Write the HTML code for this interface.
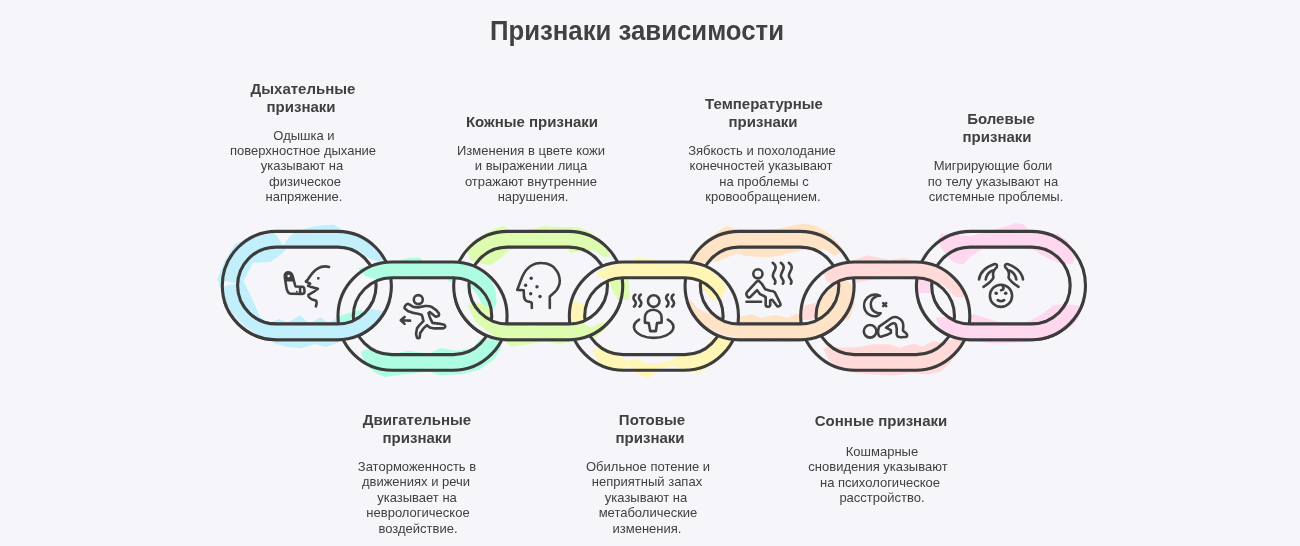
<!DOCTYPE html>
<html><head><meta charset="utf-8"><style>
html,body{margin:0;padding:0;background:#f6f6fa;}
body{width:1300px;height:546px;background:#f6f6fa;position:relative;overflow:hidden;font-family:"Liberation Sans",sans-serif;}
svg{position:absolute;left:0;top:0;}
.ln{fill:none;stroke:#3c3c3c;stroke-width:3.1;}
.ic{fill:none;stroke:#404040;stroke-width:2.6;stroke-linecap:round;stroke-linejoin:round;}
.t{position:absolute;will-change:transform;width:220px;text-align:center;font-weight:bold;font-size:15px;line-height:17.3px;color:#404040;white-space:nowrap;}
.d{position:absolute;will-change:transform;width:220px;text-align:center;font-size:13px;line-height:14.9px;color:#404040;white-space:nowrap;}
.h{position:absolute;will-change:transform;transform:scaleY(1.045);transform-origin:50% 24px;left:437px;width:400px;top:15.5px;text-align:center;font-weight:bold;font-size:25.75px;line-height:30px;color:#414141;white-space:nowrap;}
</style></head><body>
<svg width="1300" height="546" viewBox="0 0 1300 546">
<defs><clipPath id="lowclip"><rect x="0" y="302" width="1300" height="244"/></clipPath><clipPath id="band0"><path d="M276.45,231.40 H337.25 A54.15,54.15 0 0 1 337.25,339.70 H276.45 A54.15,54.15 0 0 1 276.45,231.40 Z M276.05,247.10 H337.65 A38.45,38.45 0 0 1 337.65,324.00 H276.05 A38.45,38.45 0 0 1 276.05,247.10 Z" clip-rule="evenodd"/></clipPath><clipPath id="band1"><path d="M392.13,262.00 H452.93 A54.15,54.15 0 0 1 452.93,370.30 H392.13 A54.15,54.15 0 0 1 392.13,262.00 Z M391.73,277.70 H453.33 A38.45,38.45 0 0 1 453.33,354.60 H391.73 A38.45,38.45 0 0 1 391.73,277.70 Z" clip-rule="evenodd"/></clipPath><clipPath id="band2"><path d="M507.81,231.40 H568.61 A54.15,54.15 0 0 1 568.61,339.70 H507.81 A54.15,54.15 0 0 1 507.81,231.40 Z M507.41,247.10 H569.01 A38.45,38.45 0 0 1 569.01,324.00 H507.41 A38.45,38.45 0 0 1 507.41,247.10 Z" clip-rule="evenodd"/></clipPath><clipPath id="band3"><path d="M623.49,262.00 H684.29 A54.15,54.15 0 0 1 684.29,370.30 H623.49 A54.15,54.15 0 0 1 623.49,262.00 Z M623.09,277.70 H684.69 A38.45,38.45 0 0 1 684.69,354.60 H623.09 A38.45,38.45 0 0 1 623.09,277.70 Z" clip-rule="evenodd"/></clipPath><clipPath id="band4"><path d="M739.17,231.40 H799.97 A54.15,54.15 0 0 1 799.97,339.70 H739.17 A54.15,54.15 0 0 1 739.17,231.40 Z M738.77,247.10 H800.37 A38.45,38.45 0 0 1 800.37,324.00 H738.77 A38.45,38.45 0 0 1 738.77,247.10 Z" clip-rule="evenodd"/></clipPath><clipPath id="band5"><path d="M854.85,262.00 H915.65 A54.15,54.15 0 0 1 915.65,370.30 H854.85 A54.15,54.15 0 0 1 854.85,262.00 Z M854.45,277.70 H916.05 A38.45,38.45 0 0 1 916.05,354.60 H854.45 A38.45,38.45 0 0 1 854.45,277.70 Z" clip-rule="evenodd"/></clipPath><clipPath id="band6"><path d="M970.53,231.40 H1031.33 A54.15,54.15 0 0 1 1031.33,339.70 H970.53 A54.15,54.15 0 0 1 970.53,231.40 Z M970.13,247.10 H1031.73 A38.45,38.45 0 0 1 1031.73,324.00 H970.13 A38.45,38.45 0 0 1 970.13,247.10 Z" clip-rule="evenodd"/></clipPath></defs>
<g opacity="1"><path d="M383.6,263.1 L380.8,256.2 L372.6,242.5 L358.8,234.2 L342.4,230.1 L334.1,224.6 L314.9,226.0 L296.0,231.5 L290.0,236.0 L283.0,245.5 L277.0,236.0 L273.0,233.0 L257.2,237.0 L235.2,243.8 L224.2,261.7 L217.4,279.6 L224.2,297.4 L232.5,313.9 L246.2,327.6 L259.9,335.9 L276.4,344.1 L287.4,346.9 L301.2,348.2 L314.9,344.1 L325.9,346.9 L353.4,337.3 L369.8,330.4 L380.8,319.4 L383.6,311.2 L369.8,308.4 L358.8,318.0 L336.9,318.0 L328.6,323.5 L320.4,317.2 L309.4,323.5 L299.8,315.3 L287.4,322.7 L279.2,318.8 L269.6,323.5 L259.9,316.6 L251.7,297.4 L243.5,280.9 L253.1,263.1 L270.9,261.7 L281.9,253.5 L287.4,247.4 L342.4,247.4 L358.8,250.7 L369.8,259.0 Z" fill="#c2effc"/><path d="M223.5,280.8 L236.5,283.4 L223.5,286.2 Z" fill="#f6f6fa"/><path d="M358.0,268.4 L388.2,262.9 L407.4,258.2 L419.8,257.4 L423.9,262.0 L443.1,262.0 L462.4,263.7 L478.8,269.7 L489.8,278.0 L495.3,289.0 L496.7,302.7 L491.2,313.7 L484.3,310.9 L478.8,297.2 L470.6,286.2 L454.1,283.5 L445.9,279.3 L429.4,280.2 L407.4,278.0 L390.9,277.4 L379.9,280.2 L366.2,276.6 Z" fill="#aefde3"/><path d="M337.4,316.4 L360.7,309.6 L366.2,313.7 L355.2,324.7 L338.7,327.4 Z" fill="#aefde3"/><path d="M360.7,352.1 L366.2,365.9 L377.2,374.1 L385.4,376.9 L407.4,374.1 L429.4,371.4 L440.4,375.5 L462.4,374.1 L478.8,370.0 L492.6,360.4 L500.8,349.4 L500.8,338.4 L489.8,338.4 L478.8,339.8 L473.4,348.0 L456.9,350.8 L440.4,348.0 L429.4,353.5 L407.4,350.8 L396.4,353.5 L379.9,350.8 L366.2,349.4 Z" fill="#aefde3"/><path d="M466.1,247.7 L475.7,239.5 L494.9,228.5 L503.2,225.7 L511.4,231.2 L533.4,229.0 L544.4,225.7 L555.4,227.1 L577.4,227.1 L588.4,231.2 L599.3,238.1 L607.6,247.7 L610.3,256.0 L604.8,257.3 L593.8,250.5 L582.9,250.5 L571.9,253.2 L566.4,249.1 L549.9,247.7 L522.4,247.2 L508.7,250.5 L500.4,258.7 L489.5,265.6 L478.5,262.8 L470.2,260.1 Z" fill="#defcb0"/><path d="M467.5,305.4 L475.7,321.9 L489.5,332.9 L503.2,341.1 L511.4,346.6 L530.7,343.9 L544.4,341.1 L558.1,343.9 L577.4,341.1 L593.8,338.4 L604.8,330.1 L610.3,321.9 L602.1,321.9 L591.1,327.4 L577.4,320.5 L566.4,324.6 L555.4,321.9 L530.7,326.0 L519.7,323.3 L503.2,320.5 L494.9,313.6 L489.5,306.8 L478.5,302.7 Z" fill="#defcb0"/><path d="M605.0,262.0 L628.0,272.0 L630.0,300.0 L618.0,300.0 L607.0,280.0 Z" fill="#defcb0"/><path d="M596.2,272.5 L610.0,265.6 L631.9,261.5 L637.4,257.4 L648.4,258.7 L664.9,261.5 L686.9,262.0 L703.4,267.0 L714.3,272.5 L722.6,280.7 L726.7,289.0 L719.8,299.9 L711.6,299.9 L703.4,289.0 L692.4,280.7 L678.6,279.3 L664.9,279.3 L637.4,278.0 L623.7,278.0 L618.2,280.7 L610.0,279.3 L599.0,278.0 Z" fill="#fff6b6"/><path d="M592.1,350.8 L599.0,363.1 L610.0,367.3 L620.9,370.0 L629.2,365.9 L637.4,374.1 L648.4,378.2 L659.4,368.6 L673.1,365.9 L686.9,370.0 L697.9,374.1 L708.8,365.9 L719.8,356.3 L729.5,343.9 L732.2,332.9 L722.6,332.9 L711.6,338.4 L703.4,349.4 L692.4,356.3 L681.4,353.5 L670.4,360.4 L659.4,363.1 L645.7,363.1 L637.4,359.0 L626.4,360.4 L618.2,354.9 L610.0,349.4 L601.7,346.6 Z" fill="#fff6b6"/><path d="M570.1,300.0 L585.2,304.1 L586.6,316.4 L579.7,324.7 L570.1,321.9 Z" fill="#fff6b6"/><path d="M689.2,257.3 L700.2,245.0 L719.5,229.9 L727.7,225.7 L733.2,228.5 L760.7,229.9 L779.9,228.5 L796.4,224.4 L807.4,223.5 L818.4,227.1 L829.3,234.0 L837.6,242.2 L843.1,250.5 L834.8,256.0 L823.8,249.1 L807.4,249.1 L788.1,253.2 L779.9,256.0 L763.4,257.3 L746.9,256.0 L735.9,253.2 L727.7,257.3 L716.7,261.5 L703.0,262.8 L694.7,264.2 Z" fill="#fee3c7"/><path d="M686.5,302.7 L694.7,316.4 L705.7,327.4 L724.9,335.6 L741.4,338.4 L760.7,341.7 L774.4,340.6 L788.1,342.5 L801.9,338.9 L818.4,335.6 L832.1,327.4 L840.3,319.1 L845.8,308.2 L834.8,308.2 L823.8,313.6 L807.4,317.8 L796.4,313.6 L788.1,317.8 L774.4,315.0 L760.7,317.8 L752.4,314.2 L741.4,316.4 L724.9,315.8 L711.2,314.2 L697.5,308.2 L690.6,299.9 Z" fill="#fee3c7"/><path d="M831.6,281.7 L846.3,279.8 L853.6,287.1 L854.6,303.6 L850.0,318.3 L837.1,323.8 L822.5,322.0 L817.0,314.6 L817.9,300.0 L822.5,289.0 Z" fill="#fee3c7"/><path d="M823.5,272.2 L840.0,264.0 L850.9,261.2 L867.4,255.2 L875.7,257.1 L889.4,259.9 L903.1,257.9 L914.1,260.7 L927.9,264.0 L941.6,268.1 L952.6,275.0 L960.8,286.0 L964.9,296.9 L955.3,296.9 L944.3,286.0 L933.4,280.5 L922.4,280.5 L894.9,278.3 L867.4,280.5 L853.7,283.2 L845.4,288.7 L834.5,286.0 L826.2,280.5 Z" fill="#ffdad9"/><path d="M823.5,349.1 L829.0,360.1 L840.0,368.4 L856.4,373.3 L875.7,374.4 L894.9,375.5 L911.4,372.8 L927.9,374.4 L940.2,371.7 L949.8,362.9 L958.1,351.9 L963.6,338.2 L952.6,338.2 L944.3,343.6 L933.4,340.9 L922.4,346.4 L914.1,343.6 L900.4,347.8 L889.4,344.2 L872.9,344.2 L859.2,346.9 L840.0,347.8 L829.0,345.8 Z" fill="#ffdad9"/><path d="M801.0,306.0 L816.0,303.0 L818.0,312.0 L812.0,320.0 L801.0,320.0 Z" fill="#ffdad9"/><path d="M938.5,239.5 L941.2,233.4 L971.4,236.2 L982.4,232.6 L1004.4,227.1 L1015.4,223.0 L1023.6,224.4 L1029.1,229.9 L1045.6,231.8 L1059.3,234.5 L1067.6,240.8 L1074.5,253.2 L1073.1,264.2 L1059.3,262.8 L1045.6,257.3 L1034.6,250.5 L1020.9,247.7 L996.2,249.1 L982.4,249.1 L971.4,256.0 L963.2,264.2 L954.9,262.8 L946.7,256.0 L941.2,247.7 Z" fill="#ffd7ee"/><path d="M935.7,317.8 L941.2,330.1 L954.9,336.2 L971.4,338.9 L987.9,343.3 L1004.4,343.3 L1023.6,342.5 L1042.9,338.9 L1059.3,332.9 L1073.1,325.2 L1079.9,315.0 L1078.6,305.4 L1064.8,304.0 L1053.8,304.9 L1042.9,313.6 L1029.1,321.3 L1015.4,324.1 L998.9,321.9 L985.2,317.8 L974.2,314.2 L960.4,317.8 L946.7,316.4 Z" fill="#ffd7ee"/><path d="M916.0,279.0 L930.0,277.0 L934.0,285.0 L932.0,293.0 L917.0,293.0 Z" fill="#ffd7ee"/></g>

<path d="M276.45,231.40 H337.25 A54.15,54.15 0 0 1 337.25,339.70 H276.45 A54.15,54.15 0 0 1 276.45,231.40 Z M276.05,247.10 H337.65 A38.45,38.45 0 0 1 337.65,324.00 H276.05 A38.45,38.45 0 0 1 276.05,247.10 Z" fill="#f6f6fa" fill-rule="evenodd"/><g clip-path="url(#band0)"><path d="M383.6,263.1 L380.8,256.2 L372.6,242.5 L358.8,234.2 L342.4,230.1 L334.1,224.6 L314.9,226.0 L296.0,231.5 L290.0,236.0 L283.0,245.5 L277.0,236.0 L273.0,233.0 L257.2,237.0 L235.2,243.8 L224.2,261.7 L217.4,279.6 L224.2,297.4 L232.5,313.9 L246.2,327.6 L259.9,335.9 L276.4,344.1 L287.4,346.9 L301.2,348.2 L314.9,344.1 L325.9,346.9 L353.4,337.3 L369.8,330.4 L380.8,319.4 L383.6,311.2 L369.8,308.4 L358.8,318.0 L336.9,318.0 L328.6,323.5 L320.4,317.2 L309.4,323.5 L299.8,315.3 L287.4,322.7 L279.2,318.8 L269.6,323.5 L259.9,316.6 L251.7,297.4 L243.5,280.9 L253.1,263.1 L270.9,261.7 L281.9,253.5 L287.4,247.4 L342.4,247.4 L358.8,250.7 L369.8,259.0 Z" fill="#c2effc"/><path d="M223.5,280.8 L236.5,283.4 L223.5,286.2 Z" fill="#f6f6fa"/></g><path d="M276.45,231.40 H337.25 A54.15,54.15 0 0 1 337.25,339.70 H276.45 A54.15,54.15 0 0 1 276.45,231.40 Z" class="ln"/><path d="M276.05,247.10 H337.65 A38.45,38.45 0 0 1 337.65,324.00 H276.05 A38.45,38.45 0 0 1 276.05,247.10 Z" class="ln"/><path d="M507.81,231.40 H568.61 A54.15,54.15 0 0 1 568.61,339.70 H507.81 A54.15,54.15 0 0 1 507.81,231.40 Z M507.41,247.10 H569.01 A38.45,38.45 0 0 1 569.01,324.00 H507.41 A38.45,38.45 0 0 1 507.41,247.10 Z" fill="#f6f6fa" fill-rule="evenodd"/><g clip-path="url(#band2)"><path d="M466.1,247.7 L475.7,239.5 L494.9,228.5 L503.2,225.7 L511.4,231.2 L533.4,229.0 L544.4,225.7 L555.4,227.1 L577.4,227.1 L588.4,231.2 L599.3,238.1 L607.6,247.7 L610.3,256.0 L604.8,257.3 L593.8,250.5 L582.9,250.5 L571.9,253.2 L566.4,249.1 L549.9,247.7 L522.4,247.2 L508.7,250.5 L500.4,258.7 L489.5,265.6 L478.5,262.8 L470.2,260.1 Z" fill="#defcb0"/><path d="M467.5,305.4 L475.7,321.9 L489.5,332.9 L503.2,341.1 L511.4,346.6 L530.7,343.9 L544.4,341.1 L558.1,343.9 L577.4,341.1 L593.8,338.4 L604.8,330.1 L610.3,321.9 L602.1,321.9 L591.1,327.4 L577.4,320.5 L566.4,324.6 L555.4,321.9 L530.7,326.0 L519.7,323.3 L503.2,320.5 L494.9,313.6 L489.5,306.8 L478.5,302.7 Z" fill="#defcb0"/><path d="M605.0,262.0 L628.0,272.0 L630.0,300.0 L618.0,300.0 L607.0,280.0 Z" fill="#defcb0"/></g><path d="M507.81,231.40 H568.61 A54.15,54.15 0 0 1 568.61,339.70 H507.81 A54.15,54.15 0 0 1 507.81,231.40 Z" class="ln"/><path d="M507.41,247.10 H569.01 A38.45,38.45 0 0 1 569.01,324.00 H507.41 A38.45,38.45 0 0 1 507.41,247.10 Z" class="ln"/><path d="M739.17,231.40 H799.97 A54.15,54.15 0 0 1 799.97,339.70 H739.17 A54.15,54.15 0 0 1 739.17,231.40 Z M738.77,247.10 H800.37 A38.45,38.45 0 0 1 800.37,324.00 H738.77 A38.45,38.45 0 0 1 738.77,247.10 Z" fill="#f6f6fa" fill-rule="evenodd"/><g clip-path="url(#band4)"><path d="M689.2,257.3 L700.2,245.0 L719.5,229.9 L727.7,225.7 L733.2,228.5 L760.7,229.9 L779.9,228.5 L796.4,224.4 L807.4,223.5 L818.4,227.1 L829.3,234.0 L837.6,242.2 L843.1,250.5 L834.8,256.0 L823.8,249.1 L807.4,249.1 L788.1,253.2 L779.9,256.0 L763.4,257.3 L746.9,256.0 L735.9,253.2 L727.7,257.3 L716.7,261.5 L703.0,262.8 L694.7,264.2 Z" fill="#fee3c7"/><path d="M686.5,302.7 L694.7,316.4 L705.7,327.4 L724.9,335.6 L741.4,338.4 L760.7,341.7 L774.4,340.6 L788.1,342.5 L801.9,338.9 L818.4,335.6 L832.1,327.4 L840.3,319.1 L845.8,308.2 L834.8,308.2 L823.8,313.6 L807.4,317.8 L796.4,313.6 L788.1,317.8 L774.4,315.0 L760.7,317.8 L752.4,314.2 L741.4,316.4 L724.9,315.8 L711.2,314.2 L697.5,308.2 L690.6,299.9 Z" fill="#fee3c7"/><path d="M831.6,281.7 L846.3,279.8 L853.6,287.1 L854.6,303.6 L850.0,318.3 L837.1,323.8 L822.5,322.0 L817.0,314.6 L817.9,300.0 L822.5,289.0 Z" fill="#fee3c7"/></g><path d="M739.17,231.40 H799.97 A54.15,54.15 0 0 1 799.97,339.70 H739.17 A54.15,54.15 0 0 1 739.17,231.40 Z" class="ln"/><path d="M738.77,247.10 H800.37 A38.45,38.45 0 0 1 800.37,324.00 H738.77 A38.45,38.45 0 0 1 738.77,247.10 Z" class="ln"/><path d="M970.53,231.40 H1031.33 A54.15,54.15 0 0 1 1031.33,339.70 H970.53 A54.15,54.15 0 0 1 970.53,231.40 Z M970.13,247.10 H1031.73 A38.45,38.45 0 0 1 1031.73,324.00 H970.13 A38.45,38.45 0 0 1 970.13,247.10 Z" fill="#f6f6fa" fill-rule="evenodd"/><g clip-path="url(#band6)"><path d="M938.5,239.5 L941.2,233.4 L971.4,236.2 L982.4,232.6 L1004.4,227.1 L1015.4,223.0 L1023.6,224.4 L1029.1,229.9 L1045.6,231.8 L1059.3,234.5 L1067.6,240.8 L1074.5,253.2 L1073.1,264.2 L1059.3,262.8 L1045.6,257.3 L1034.6,250.5 L1020.9,247.7 L996.2,249.1 L982.4,249.1 L971.4,256.0 L963.2,264.2 L954.9,262.8 L946.7,256.0 L941.2,247.7 Z" fill="#ffd7ee"/><path d="M935.7,317.8 L941.2,330.1 L954.9,336.2 L971.4,338.9 L987.9,343.3 L1004.4,343.3 L1023.6,342.5 L1042.9,338.9 L1059.3,332.9 L1073.1,325.2 L1079.9,315.0 L1078.6,305.4 L1064.8,304.0 L1053.8,304.9 L1042.9,313.6 L1029.1,321.3 L1015.4,324.1 L998.9,321.9 L985.2,317.8 L974.2,314.2 L960.4,317.8 L946.7,316.4 Z" fill="#ffd7ee"/><path d="M916.0,279.0 L930.0,277.0 L934.0,285.0 L932.0,293.0 L917.0,293.0 Z" fill="#ffd7ee"/></g><path d="M970.53,231.40 H1031.33 A54.15,54.15 0 0 1 1031.33,339.70 H970.53 A54.15,54.15 0 0 1 970.53,231.40 Z" class="ln"/><path d="M970.13,247.10 H1031.73 A38.45,38.45 0 0 1 1031.73,324.00 H970.13 A38.45,38.45 0 0 1 970.13,247.10 Z" class="ln"/>
<path d="M392.13,262.00 H452.93 A54.15,54.15 0 0 1 452.93,370.30 H392.13 A54.15,54.15 0 0 1 392.13,262.00 Z M391.73,277.70 H453.33 A38.45,38.45 0 0 1 453.33,354.60 H391.73 A38.45,38.45 0 0 1 391.73,277.70 Z" fill="#f6f6fa" fill-rule="evenodd"/><g clip-path="url(#band1)"><path d="M358.0,268.4 L388.2,262.9 L407.4,258.2 L419.8,257.4 L423.9,262.0 L443.1,262.0 L462.4,263.7 L478.8,269.7 L489.8,278.0 L495.3,289.0 L496.7,302.7 L491.2,313.7 L484.3,310.9 L478.8,297.2 L470.6,286.2 L454.1,283.5 L445.9,279.3 L429.4,280.2 L407.4,278.0 L390.9,277.4 L379.9,280.2 L366.2,276.6 Z" fill="#aefde3"/><path d="M337.4,316.4 L360.7,309.6 L366.2,313.7 L355.2,324.7 L338.7,327.4 Z" fill="#aefde3"/><path d="M360.7,352.1 L366.2,365.9 L377.2,374.1 L385.4,376.9 L407.4,374.1 L429.4,371.4 L440.4,375.5 L462.4,374.1 L478.8,370.0 L492.6,360.4 L500.8,349.4 L500.8,338.4 L489.8,338.4 L478.8,339.8 L473.4,348.0 L456.9,350.8 L440.4,348.0 L429.4,353.5 L407.4,350.8 L396.4,353.5 L379.9,350.8 L366.2,349.4 Z" fill="#aefde3"/></g><path d="M392.13,262.00 H452.93 A54.15,54.15 0 0 1 452.93,370.30 H392.13 A54.15,54.15 0 0 1 392.13,262.00 Z" class="ln"/><path d="M391.73,277.70 H453.33 A38.45,38.45 0 0 1 453.33,354.60 H391.73 A38.45,38.45 0 0 1 391.73,277.70 Z" class="ln"/><path d="M623.49,262.00 H684.29 A54.15,54.15 0 0 1 684.29,370.30 H623.49 A54.15,54.15 0 0 1 623.49,262.00 Z M623.09,277.70 H684.69 A38.45,38.45 0 0 1 684.69,354.60 H623.09 A38.45,38.45 0 0 1 623.09,277.70 Z" fill="#f6f6fa" fill-rule="evenodd"/><g clip-path="url(#band3)"><path d="M596.2,272.5 L610.0,265.6 L631.9,261.5 L637.4,257.4 L648.4,258.7 L664.9,261.5 L686.9,262.0 L703.4,267.0 L714.3,272.5 L722.6,280.7 L726.7,289.0 L719.8,299.9 L711.6,299.9 L703.4,289.0 L692.4,280.7 L678.6,279.3 L664.9,279.3 L637.4,278.0 L623.7,278.0 L618.2,280.7 L610.0,279.3 L599.0,278.0 Z" fill="#fff6b6"/><path d="M592.1,350.8 L599.0,363.1 L610.0,367.3 L620.9,370.0 L629.2,365.9 L637.4,374.1 L648.4,378.2 L659.4,368.6 L673.1,365.9 L686.9,370.0 L697.9,374.1 L708.8,365.9 L719.8,356.3 L729.5,343.9 L732.2,332.9 L722.6,332.9 L711.6,338.4 L703.4,349.4 L692.4,356.3 L681.4,353.5 L670.4,360.4 L659.4,363.1 L645.7,363.1 L637.4,359.0 L626.4,360.4 L618.2,354.9 L610.0,349.4 L601.7,346.6 Z" fill="#fff6b6"/><path d="M570.1,300.0 L585.2,304.1 L586.6,316.4 L579.7,324.7 L570.1,321.9 Z" fill="#fff6b6"/></g><path d="M623.49,262.00 H684.29 A54.15,54.15 0 0 1 684.29,370.30 H623.49 A54.15,54.15 0 0 1 623.49,262.00 Z" class="ln"/><path d="M623.09,277.70 H684.69 A38.45,38.45 0 0 1 684.69,354.60 H623.09 A38.45,38.45 0 0 1 623.09,277.70 Z" class="ln"/><path d="M854.85,262.00 H915.65 A54.15,54.15 0 0 1 915.65,370.30 H854.85 A54.15,54.15 0 0 1 854.85,262.00 Z M854.45,277.70 H916.05 A38.45,38.45 0 0 1 916.05,354.60 H854.45 A38.45,38.45 0 0 1 854.45,277.70 Z" fill="#f6f6fa" fill-rule="evenodd"/><g clip-path="url(#band5)"><path d="M823.5,272.2 L840.0,264.0 L850.9,261.2 L867.4,255.2 L875.7,257.1 L889.4,259.9 L903.1,257.9 L914.1,260.7 L927.9,264.0 L941.6,268.1 L952.6,275.0 L960.8,286.0 L964.9,296.9 L955.3,296.9 L944.3,286.0 L933.4,280.5 L922.4,280.5 L894.9,278.3 L867.4,280.5 L853.7,283.2 L845.4,288.7 L834.5,286.0 L826.2,280.5 Z" fill="#ffdad9"/><path d="M823.5,349.1 L829.0,360.1 L840.0,368.4 L856.4,373.3 L875.7,374.4 L894.9,375.5 L911.4,372.8 L927.9,374.4 L940.2,371.7 L949.8,362.9 L958.1,351.9 L963.6,338.2 L952.6,338.2 L944.3,343.6 L933.4,340.9 L922.4,346.4 L914.1,343.6 L900.4,347.8 L889.4,344.2 L872.9,344.2 L859.2,346.9 L840.0,347.8 L829.0,345.8 Z" fill="#ffdad9"/><path d="M801.0,306.0 L816.0,303.0 L818.0,312.0 L812.0,320.0 L801.0,320.0 Z" fill="#ffdad9"/></g><path d="M854.85,262.00 H915.65 A54.15,54.15 0 0 1 915.65,370.30 H854.85 A54.15,54.15 0 0 1 854.85,262.00 Z" class="ln"/><path d="M854.45,277.70 H916.05 A38.45,38.45 0 0 1 916.05,354.60 H854.45 A38.45,38.45 0 0 1 854.45,277.70 Z" class="ln"/>
<g clip-path="url(#lowclip)"><path d="M276.45,231.40 H337.25 A54.15,54.15 0 0 1 337.25,339.70 H276.45 A54.15,54.15 0 0 1 276.45,231.40 Z M276.05,247.10 H337.65 A38.45,38.45 0 0 1 337.65,324.00 H276.05 A38.45,38.45 0 0 1 276.05,247.10 Z" fill="#f6f6fa" fill-rule="evenodd"/><g clip-path="url(#band0)"><path d="M383.6,263.1 L380.8,256.2 L372.6,242.5 L358.8,234.2 L342.4,230.1 L334.1,224.6 L314.9,226.0 L296.0,231.5 L290.0,236.0 L283.0,245.5 L277.0,236.0 L273.0,233.0 L257.2,237.0 L235.2,243.8 L224.2,261.7 L217.4,279.6 L224.2,297.4 L232.5,313.9 L246.2,327.6 L259.9,335.9 L276.4,344.1 L287.4,346.9 L301.2,348.2 L314.9,344.1 L325.9,346.9 L353.4,337.3 L369.8,330.4 L380.8,319.4 L383.6,311.2 L369.8,308.4 L358.8,318.0 L336.9,318.0 L328.6,323.5 L320.4,317.2 L309.4,323.5 L299.8,315.3 L287.4,322.7 L279.2,318.8 L269.6,323.5 L259.9,316.6 L251.7,297.4 L243.5,280.9 L253.1,263.1 L270.9,261.7 L281.9,253.5 L287.4,247.4 L342.4,247.4 L358.8,250.7 L369.8,259.0 Z" fill="#c2effc"/><path d="M223.5,280.8 L236.5,283.4 L223.5,286.2 Z" fill="#f6f6fa"/></g><path d="M276.45,231.40 H337.25 A54.15,54.15 0 0 1 337.25,339.70 H276.45 A54.15,54.15 0 0 1 276.45,231.40 Z" class="ln"/><path d="M276.05,247.10 H337.65 A38.45,38.45 0 0 1 337.65,324.00 H276.05 A38.45,38.45 0 0 1 276.05,247.10 Z" class="ln"/><path d="M507.81,231.40 H568.61 A54.15,54.15 0 0 1 568.61,339.70 H507.81 A54.15,54.15 0 0 1 507.81,231.40 Z M507.41,247.10 H569.01 A38.45,38.45 0 0 1 569.01,324.00 H507.41 A38.45,38.45 0 0 1 507.41,247.10 Z" fill="#f6f6fa" fill-rule="evenodd"/><g clip-path="url(#band2)"><path d="M466.1,247.7 L475.7,239.5 L494.9,228.5 L503.2,225.7 L511.4,231.2 L533.4,229.0 L544.4,225.7 L555.4,227.1 L577.4,227.1 L588.4,231.2 L599.3,238.1 L607.6,247.7 L610.3,256.0 L604.8,257.3 L593.8,250.5 L582.9,250.5 L571.9,253.2 L566.4,249.1 L549.9,247.7 L522.4,247.2 L508.7,250.5 L500.4,258.7 L489.5,265.6 L478.5,262.8 L470.2,260.1 Z" fill="#defcb0"/><path d="M467.5,305.4 L475.7,321.9 L489.5,332.9 L503.2,341.1 L511.4,346.6 L530.7,343.9 L544.4,341.1 L558.1,343.9 L577.4,341.1 L593.8,338.4 L604.8,330.1 L610.3,321.9 L602.1,321.9 L591.1,327.4 L577.4,320.5 L566.4,324.6 L555.4,321.9 L530.7,326.0 L519.7,323.3 L503.2,320.5 L494.9,313.6 L489.5,306.8 L478.5,302.7 Z" fill="#defcb0"/><path d="M605.0,262.0 L628.0,272.0 L630.0,300.0 L618.0,300.0 L607.0,280.0 Z" fill="#defcb0"/></g><path d="M507.81,231.40 H568.61 A54.15,54.15 0 0 1 568.61,339.70 H507.81 A54.15,54.15 0 0 1 507.81,231.40 Z" class="ln"/><path d="M507.41,247.10 H569.01 A38.45,38.45 0 0 1 569.01,324.00 H507.41 A38.45,38.45 0 0 1 507.41,247.10 Z" class="ln"/><path d="M739.17,231.40 H799.97 A54.15,54.15 0 0 1 799.97,339.70 H739.17 A54.15,54.15 0 0 1 739.17,231.40 Z M738.77,247.10 H800.37 A38.45,38.45 0 0 1 800.37,324.00 H738.77 A38.45,38.45 0 0 1 738.77,247.10 Z" fill="#f6f6fa" fill-rule="evenodd"/><g clip-path="url(#band4)"><path d="M689.2,257.3 L700.2,245.0 L719.5,229.9 L727.7,225.7 L733.2,228.5 L760.7,229.9 L779.9,228.5 L796.4,224.4 L807.4,223.5 L818.4,227.1 L829.3,234.0 L837.6,242.2 L843.1,250.5 L834.8,256.0 L823.8,249.1 L807.4,249.1 L788.1,253.2 L779.9,256.0 L763.4,257.3 L746.9,256.0 L735.9,253.2 L727.7,257.3 L716.7,261.5 L703.0,262.8 L694.7,264.2 Z" fill="#fee3c7"/><path d="M686.5,302.7 L694.7,316.4 L705.7,327.4 L724.9,335.6 L741.4,338.4 L760.7,341.7 L774.4,340.6 L788.1,342.5 L801.9,338.9 L818.4,335.6 L832.1,327.4 L840.3,319.1 L845.8,308.2 L834.8,308.2 L823.8,313.6 L807.4,317.8 L796.4,313.6 L788.1,317.8 L774.4,315.0 L760.7,317.8 L752.4,314.2 L741.4,316.4 L724.9,315.8 L711.2,314.2 L697.5,308.2 L690.6,299.9 Z" fill="#fee3c7"/><path d="M831.6,281.7 L846.3,279.8 L853.6,287.1 L854.6,303.6 L850.0,318.3 L837.1,323.8 L822.5,322.0 L817.0,314.6 L817.9,300.0 L822.5,289.0 Z" fill="#fee3c7"/></g><path d="M739.17,231.40 H799.97 A54.15,54.15 0 0 1 799.97,339.70 H739.17 A54.15,54.15 0 0 1 739.17,231.40 Z" class="ln"/><path d="M738.77,247.10 H800.37 A38.45,38.45 0 0 1 800.37,324.00 H738.77 A38.45,38.45 0 0 1 738.77,247.10 Z" class="ln"/><path d="M970.53,231.40 H1031.33 A54.15,54.15 0 0 1 1031.33,339.70 H970.53 A54.15,54.15 0 0 1 970.53,231.40 Z M970.13,247.10 H1031.73 A38.45,38.45 0 0 1 1031.73,324.00 H970.13 A38.45,38.45 0 0 1 970.13,247.10 Z" fill="#f6f6fa" fill-rule="evenodd"/><g clip-path="url(#band6)"><path d="M938.5,239.5 L941.2,233.4 L971.4,236.2 L982.4,232.6 L1004.4,227.1 L1015.4,223.0 L1023.6,224.4 L1029.1,229.9 L1045.6,231.8 L1059.3,234.5 L1067.6,240.8 L1074.5,253.2 L1073.1,264.2 L1059.3,262.8 L1045.6,257.3 L1034.6,250.5 L1020.9,247.7 L996.2,249.1 L982.4,249.1 L971.4,256.0 L963.2,264.2 L954.9,262.8 L946.7,256.0 L941.2,247.7 Z" fill="#ffd7ee"/><path d="M935.7,317.8 L941.2,330.1 L954.9,336.2 L971.4,338.9 L987.9,343.3 L1004.4,343.3 L1023.6,342.5 L1042.9,338.9 L1059.3,332.9 L1073.1,325.2 L1079.9,315.0 L1078.6,305.4 L1064.8,304.0 L1053.8,304.9 L1042.9,313.6 L1029.1,321.3 L1015.4,324.1 L998.9,321.9 L985.2,317.8 L974.2,314.2 L960.4,317.8 L946.7,316.4 Z" fill="#ffd7ee"/><path d="M916.0,279.0 L930.0,277.0 L934.0,285.0 L932.0,293.0 L917.0,293.0 Z" fill="#ffd7ee"/></g><path d="M970.53,231.40 H1031.33 A54.15,54.15 0 0 1 1031.33,339.70 H970.53 A54.15,54.15 0 0 1 970.53,231.40 Z" class="ln"/><path d="M970.13,247.10 H1031.73 A38.45,38.45 0 0 1 1031.73,324.00 H970.13 A38.45,38.45 0 0 1 970.13,247.10 Z" class="ln"/></g>
<g class="ic">
<!-- icon1 inhaler + face -->
<path d="M287.5,272.4 C285.5,272.6 284.5,274.5 284.8,277 L286.3,287 C286.8,290.5 288,293.3 290.5,293.8 L302.5,293.9 C303.8,293.8 304.5,293 304.5,291.5 L304.3,289 C304.2,287.8 303.5,286.8 302.3,286.7 L296,286.5 C295.3,286.3 295,285.5 294.9,284.5 L292.6,276 C292,273.8 290,272.2 287.5,272.4 Z"/>
<path d="M285.2,274.8 C286,273 288.5,272.3 290.5,273.5 C292,274.5 292.5,277 293,280 L285.5,280 Z" fill="#404040" stroke-width="1.2"/>
<circle cx="288.6" cy="276" r="1.25" fill="#f6f6fa" stroke="none"/>
<path d="M285.3,280.1 L293.2,280.1"/>
<path d="M300.1,288 L300.1,293.3"/>
<circle cx="296.8" cy="291.8" r="1" fill="#404040" stroke="none"/>
<path d="M329.1,266.9 C325,265.8 320.5,266.8 317.5,268.6 C314.5,270.3 311,274.5 308,279.3 L305.9,281.5 L310.2,283.6 L308,285.8 L311.5,287.1 L317.9,288.8 L313.2,292.2 L308.4,294.8 C308.3,296 308.5,296.5 308.9,297 C310,298.3 311,299 312.3,299.5 L316.2,300.8 C316.8,301.8 316.8,302.5 316.6,303.4 L315.9,306.4"/>
<rect x="317.1" y="277.1" width="2.4" height="2.4" fill="#404040" stroke="none"/>
<!-- icon2 runner -->
<circle cx="418.3" cy="299.6" r="4.5"/>
<path d="M405.1,306 C406.5,304 408,303.8 408.7,304.2 L413.3,306.9 L417.9,307.4 L425.2,306 C428,305.8 430,306 431.6,306.9 L436.2,310.1 L438.9,313.3 C439.3,315 438.8,316 438,316.1 C437,316.6 436,316.7 435.3,316.5 L429.8,312 L428.5,313 L429.8,317.4 L432.5,322.9 L440.7,323.9 L444.4,324.8 C445.3,325.8 445.3,327 444.9,327.5 C444.2,328.3 443.4,328.4 442.6,328.4 L434.3,328.4 L429.8,327.5 L427,325.2 L423.4,328.4 L420.2,333 L419.7,337.6 C419,338.4 417.6,338.4 417,337.6 L416,333.9 L417,328.4 L419.7,324.8 L423.4,321.1 L422.4,316.5 L421.5,314.7 L417.9,313.8 L413.3,312.9 L407.8,311 L404.6,308.3 C404.3,307.3 404.5,306.6 405.1,306 Z"/>
<path d="M401.4,320.3 L410.1,320.6 M404.6,317 L400.8,320.3 L404.6,323.9"/>
<!-- icon3 head with dots -->
<path d="M531.8,307.9 L531.8,303.6 C531.8,303 531.7,302.6 531.2,302.3 L527,301.2 C525,300.3 524.3,299 524,296.5 L523.7,290.2 L517.2,289.9 C518.5,286.5 520,283 521.1,279.7 C523,274.5 525,271 527.6,268.6 C529.5,266.5 531,265.5 533.2,264.6 C535,263.6 537,263.1 539.2,263.1 C542,263 544,263.1 546.3,263.6 C548.5,264.3 550.5,265 552.3,266.1 C554.2,267.6 555.6,269.2 556.8,271.1 C558.3,273.2 559,275 559.4,277.2 C559.9,279.5 559.8,282 559.4,284.2 C558.8,286.3 558,288 556.8,289.8 C555.5,291.5 554,293 552.3,294.3 L549.8,296.5 L549.8,307.9"/>
<g fill="#404040" stroke="none">
<circle cx="531.2" cy="278.2" r="1.7"/><circle cx="525.6" cy="285.2" r="1.7"/><circle cx="537" cy="286.7" r="1.7"/><circle cx="530.7" cy="293.8" r="1.7"/><circle cx="540" cy="296.5" r="1.7"/>
</g>
<!-- icon4 sweat person -->
<circle cx="653.7" cy="301.1" r="5.8"/>
<path d="M644.9,322.6 L644.9,317.5 C644.9,313 648.5,309.7 653.2,309.7 C657.9,309.7 661.6,313 661.6,317.5 L661.6,322.6 L657,323.1 L655.9,331.1 L650.2,331.1 L648.8,323.1 Z"/>
<path d="M639.1,319.7 C634.5,322.5 633.2,326 634.5,329.5 C637,334.5 645,337.9 653.7,337.9 C662.5,337.9 670.5,334.5 672.9,329.5 C674.2,326 672.8,322.5 667.8,319.7"/>
<path d="M635.3,294.6 C632.8,296.5 633,298.6 634.6,300.3 C636.2,302 636.3,304.3 634,306.6"/>
<path d="M640.8,294.6 C638.3,296.5 638.5,298.6 640.1,300.3 C641.7,302 641.8,304.3 639.5,306.6"/>
<path d="M668,294.6 C665.5,296.5 665.7,298.6 667.3,300.3 C668.9,302 669,304.3 666.7,306.6"/>
<path d="M673.5,294.6 C671,296.5 671.2,298.6 672.8,300.3 C674.4,302 674.5,304.3 672.2,306.6"/>
<!-- icon5 sauna -->
<circle cx="757.9" cy="273.8" r="4.6"/>
<path d="M756.6,281.6 L747,292.2 C746.2,293.3 746.2,294 746.5,294.7 C747,296.5 747.8,297.2 748.1,297.2 C749,297.6 749.6,297.5 750.1,297.2 L757.1,290.2 L760.1,294.2 L763.2,295.7 L765.7,297.2 L765.7,305.3 C766.3,306.5 767.3,306.9 768.2,306.8 C769.2,306.8 770,306 770.2,305.3 L770.2,300.3 L772.2,299.8 L777.2,306.3 C778.3,306.8 779.5,306.3 780.3,305.3 C780.6,304.3 780.3,303.2 779.8,302.3 L774.7,292.2 C773.5,291.2 772,290.8 770.2,290.7 L765.2,289.2 L762.1,284.2 L759.1,281.1 C758,280.9 757.2,281 756.6,281.6 Z"/>
<path d="M746.5,301.8 L761.1,301.8"/>
<path d="M772.7,262.8 C775.0,264.5 776.0,266.5 775.5,268.5 C775.0,270.5 773.0,273 772.8,275.5 C772.7,277.5 774.5,279 775.3,280.8 C775.6,282 775.2,283 774.7,283.7"/>
<path d="M780.8,262.8 C783.1,264.5 784.1,266.5 783.6,268.5 C783.1,270.5 781.1,273 780.9,275.5 C780.8,277.5 782.6,279 783.4,280.8 C783.7,282 783.3,283 782.8,283.7"/>
<path d="M788.8,262.8 C791.1,264.5 792.1,266.5 791.6,268.5 C791.1,270.5 789.1,273 788.9,275.5 C788.8,277.5 790.6,279 791.4,280.8 C791.7,282 791.3,283 790.8,283.7"/>
<!-- icon6 moon + sleeper -->
<path d="M880.2,295.8 C876,293.8 871,294.4 867.5,297.5 C864,300.8 863.3,306 865,310 C867,314.8 872.5,317 877,316 C878.5,315.6 879.7,314.6 880.7,313.3 C876.5,313.5 872.3,311.2 871.2,307.3 C870,303.2 871.5,299 875,297 C876.5,296.1 878.3,295.7 880.2,295.8 Z"/>
<path d="M883.2,303.1 L886.2,306.1 M886.2,303.1 L883.2,306.1"/>
<circle cx="870.1" cy="331.3" r="6.3"/>
<path d="M879.1,326.6 L888.2,320.2 C890,318.8 891.5,317.6 893.1,317.2 C895,316.8 897,317 898.6,318 C900.3,319 901.5,320 902.2,321.3 C903,323 903.3,324.5 903.3,325.7 L903,330.7 L906.1,333.2 C907,334 907.5,335 907.2,335.6 C906.8,336.5 906.2,337 905.5,337 L900.8,337.3 L898.1,336.7 C897.4,336.2 896.9,335.4 896.7,334.5 L896.7,328.5 L895.9,324.6 C895.5,323.9 894.8,323.4 894,323.3 C893,323.2 892.2,323.4 891.5,323.8 L886,327.7 L890.9,330.1 L890.9,332.9 L887.1,334.8 L881,336.7 C880,336.6 879.2,336.2 878.8,335.6 L878,332.9 L878.3,329.6 Z"/>
<!-- icon7 baby + hands -->
<circle cx="1001" cy="295.8" r="11.1"/>
<circle cx="996.2" cy="293.3" r="1.8" fill="#404040" stroke="none"/>
<circle cx="1005.7" cy="293.3" r="1.8" fill="#404040" stroke="none"/>
<path d="M997.7,300.2 Q1001,302.3 1004.2,300.2"/>
<path d="M1001,290.3 C1003.5,290 1004.3,288 1002.8,286.5"/>
<path d="M979,279.5 C980,272 986,267 994.5,264 C997.5,263.5 997.8,267 995.5,268.5 C993,271 992.5,274 993.5,277.5 C992,281 988,284 983.5,286.8"/>
<path d="M985.7,279.5 C986.5,275 988.5,272 992.5,270.5"/>
<path d="M1023,279.5 C1022,272 1016,267 1007.5,264 C1004.5,263.5 1004.2,267 1006.5,268.5 C1009,271 1009.5,274 1008.5,277.5 C1010,281 1014,284 1018.5,286.8"/>
<path d="M1016.3,279.5 C1015.5,275 1013.5,272 1009.5,270.5"/>
</g>

</svg>
<div class="h">Признаки зависимости</div>
<div class="t" style="left:192.70px;top:80px">Дыхательные</div>
<div class="t" style="left:190.60px;top:98px">признаки</div>
<div class="d" style="left:194.40px;top:129px">Одышка и</div>
<div class="d" style="left:192.60px;top:144px">поверхностное дыхание</div>
<div class="d" style="left:192.40px;top:159px">указывают на</div>
<div class="d" style="left:194.50px;top:175px">физическое</div>
<div class="d" style="left:194.40px;top:190px">напряжение.</div>
<div class="t" style="left:422.10px;top:113px">Кожные признаки</div>
<div class="d" style="left:420.80px;top:144px">Изменения в цвете кожи</div>
<div class="d" style="left:421.20px;top:159px">и выражении лица</div>
<div class="d" style="left:421.30px;top:175px">отражают внутренние</div>
<div class="d" style="left:423.10px;top:190px">нарушения.</div>
<div class="t" style="left:654.40px;top:95px">Температурные</div>
<div class="t" style="left:653.20px;top:113px">признаки</div>
<div class="d" style="left:652.40px;top:144px">Зябкость и похолодание</div>
<div class="d" style="left:651.40px;top:159px">конечностей указывают</div>
<div class="d" style="left:653.70px;top:175px">на проблемы с</div>
<div class="d" style="left:653.40px;top:190px">кровообращением.</div>
<div class="t" style="left:890.90px;top:110px">Болевые</div>
<div class="t" style="left:887.00px;top:128px">признаки</div>
<div class="d" style="left:883.00px;top:159px">Мигрирующие боли</div>
<div class="d" style="left:883.40px;top:175px">по телу указывают на</div>
<div class="d" style="left:885.50px;top:190px">системные проблемы.</div>
<div class="t" style="left:307.30px;top:411px">Двигательные</div>
<div class="t" style="left:306.50px;top:429px">признаки</div>
<div class="d" style="left:306.80px;top:460px">Заторможенность в</div>
<div class="d" style="left:305.80px;top:475px">движениях и речи</div>
<div class="d" style="left:307.00px;top:491px">указывает на</div>
<div class="d" style="left:307.80px;top:506px">неврологическое</div>
<div class="d" style="left:308.40px;top:522px">воздействие.</div>
<div class="t" style="left:542.40px;top:411px">Потовые</div>
<div class="t" style="left:540.00px;top:429px">признаки</div>
<div class="d" style="left:537.70px;top:460px">Обильное потение и</div>
<div class="d" style="left:537.30px;top:475px">неприятный запах</div>
<div class="d" style="left:536.30px;top:491px">указывают на</div>
<div class="d" style="left:538.00px;top:506px">метаболические</div>
<div class="d" style="left:537.30px;top:522px">изменения.</div>
<div class="t" style="left:771.30px;top:412px">Сонные признаки</div>
<div class="d" style="left:771.50px;top:445px">Кошмарные</div>
<div class="d" style="left:768.30px;top:460px">сновидения указывают</div>
<div class="d" style="left:769.80px;top:476px">на психологическое</div>
<div class="d" style="left:771.50px;top:491px">расстройство.</div>

</body></html>
